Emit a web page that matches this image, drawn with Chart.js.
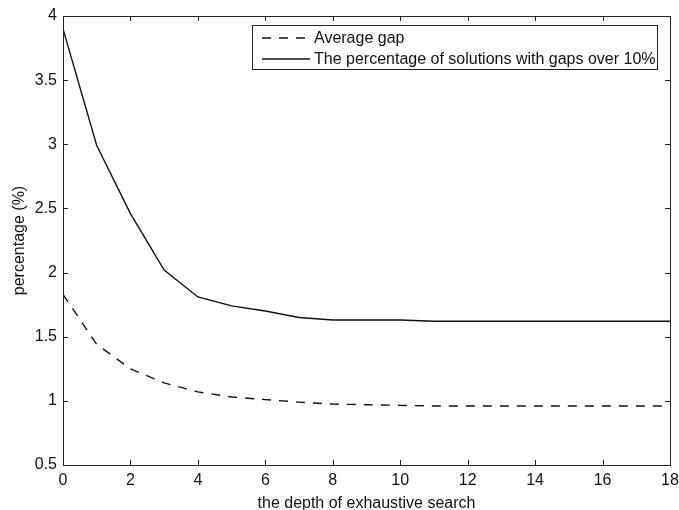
<!DOCTYPE html>
<html>
<head>
<meta charset="utf-8">
<script src="https://cdn.jsdelivr.net/npm/chart.js@4.4.0/dist/chart.umd.min.js"></script>
<style>
  html, body { margin: 0; padding: 0; background: #fff; }
  #wrap { width: 679px; height: 510px; }
</style>
</head>
<body>
<div id="wrap"><canvas id="chart" width="679" height="510"></canvas></div>
<script>
// Data
const depth = [0, 1, 2, 3, 4, 5, 6, 7, 8, 9, 10, 11, 12, 13, 14, 15, 16, 17, 18];
const avgGap = [1.83, 1.44, 1.25, 1.14, 1.07, 1.03, 1.01, 0.99, 0.975, 0.97, 0.965, 0.96, 0.96, 0.96, 0.96, 0.96, 0.96, 0.96, 0.96];
const pctOver10 = [3.9, 2.99, 2.46, 2.02, 1.81, 1.74, 1.70, 1.65, 1.63, 1.63, 1.63, 1.62, 1.62, 1.62, 1.62, 1.62, 1.62, 1.62, 1.62];
const seriesLabels = ['Average gap', 'The percentage of solutions with gaps over 10%'];

const FONT = 'Arial, "Liberation Sans", sans-serif';
const INK = '#111';

const toPoints = ys => depth.map((x, i) => ({ x: x, y: ys[i] }));

// Frame, inward ticks on all four sides, and the in-plot legend box
const matlabFrame = {
    id: 'matlabFrame',
    afterDraw(chart) {
        const { ctx, chartArea: a, scales } = chart;
        const len = 5;
        ctx.save();
        ctx.strokeStyle = '#222';
        ctx.lineWidth = 1;
        ctx.strokeRect(a.left + 0.5, a.top + 0.5, a.right - a.left, a.bottom - a.top);
        ctx.beginPath();
        scales.x.ticks.forEach(t => {
            const px = Math.round(scales.x.getPixelForValue(t.value)) + 0.5;
            ctx.moveTo(px, a.bottom); ctx.lineTo(px, a.bottom - len);
            ctx.moveTo(px, a.top); ctx.lineTo(px, a.top + len);
        });
        scales.y.ticks.forEach(t => {
            const py = Math.round(scales.y.getPixelForValue(t.value)) + 0.5;
            ctx.moveTo(a.left, py); ctx.lineTo(a.left + len, py);
            ctx.moveTo(a.right, py); ctx.lineTo(a.right - len, py);
        });
        ctx.stroke();

        // legend
        const box = { x: 252, y: 25, w: 405, h: 44 };
        ctx.fillStyle = '#fff';
        ctx.fillRect(box.x, box.y, box.w, box.h);
        ctx.strokeStyle = '#222';
        ctx.strokeRect(box.x + 0.5, box.y + 0.5, box.w, box.h);
        ctx.font = '16px ' + FONT;
        ctx.textBaseline = 'middle';
        ctx.fillStyle = INK;
        chart.data.datasets.forEach((ds, i) => {
            const yy = box.y + 13 + i * 21;
            ctx.beginPath();
            ctx.setLineDash(ds.borderDash || []);
            ctx.strokeStyle = ds.borderColor;
            ctx.lineWidth = ds.borderWidth;
            ctx.moveTo(box.x + 10, yy);
            ctx.lineTo(box.x + 58, yy);
            ctx.stroke();
            ctx.setLineDash([]);
            ctx.fillText(ds.label, box.x + 62, yy + 1);
        });
        ctx.restore();
    }
};

new Chart(document.getElementById('chart'), {
    type: 'line',
    data: {
        datasets: [
            {
                label: seriesLabels[0],
                data: toPoints(avgGap),
                borderColor: INK,
                borderWidth: 1.4,
                borderDash: [9, 8],
                pointRadius: 0,
                fill: false,
                tension: 0
            },
            {
                label: seriesLabels[1],
                data: toPoints(pctOver10),
                borderColor: INK,
                borderWidth: 1.4,
                pointRadius: 0,
                fill: false,
                tension: 0
            }
        ]
    },
    options: {
        responsive: false,
        animation: false,
        layout: { padding: { top: 16, right: 9, left: 0, bottom: 0 } },
        plugins: {
            legend: { display: false },
            tooltip: { enabled: false }
        },
        scales: {
            x: {
                type: 'linear',
                min: 0,
                max: 18,
                afterFit: s => { s.height = 45; s.paddingLeft = 0; s.paddingRight = 0; },
                ticks: { stepSize: 2, color: INK, padding: 6, maxRotation: 0, font: { family: FONT, size: 16 } },
                grid: { display: false, drawTicks: false },
                border: { display: false },
                title: {
                    display: true,
                    text: 'the depth of exhaustive search',
                    color: INK,
                    padding: { top: 0, bottom: -2 },
                    font: { family: FONT, size: 16, lineHeight: 1 }
                }
            },
            y: {
                min: 0.5,
                max: 4,
                afterFit: s => { s.width = 63; s.paddingTop = 0; s.paddingBottom = 0; },
                ticks: {
                    stepSize: 0.5,
                    color: INK,
                    padding: 6,
                    font: { family: FONT, size: 16 },
                    callback: v => String(v)
                },
                grid: { display: false, drawTicks: false },
                border: { display: false },
                title: {
                    display: true,
                    text: 'percentage (%)',
                    color: INK,
                    padding: { top: 12, bottom: 0 },
                    font: { family: FONT, size: 16, lineHeight: 1 }
                }
            }
        }
    },
    plugins: [matlabFrame]
});
</script>
</body>
</html>
